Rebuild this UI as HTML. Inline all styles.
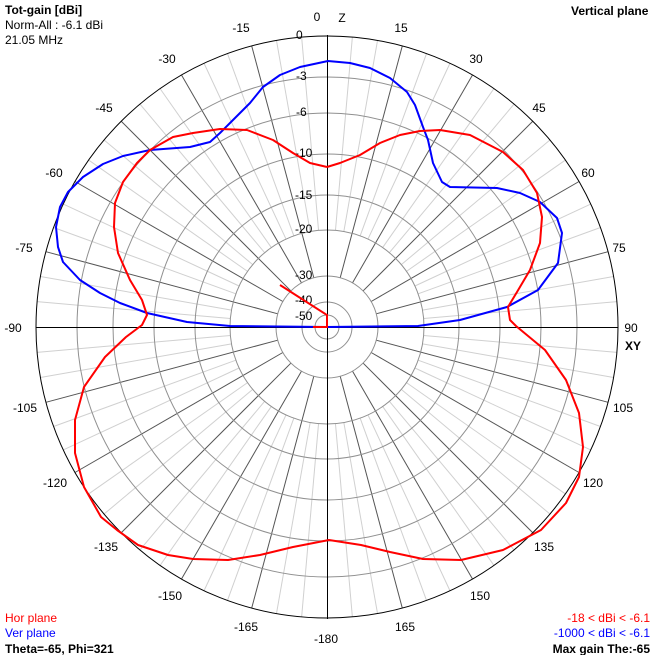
<!DOCTYPE html>
<html><head><style>
html,body{margin:0;padding:0;background:#fff;}
svg{display:block;}
text{font-family:"Liberation Sans",sans-serif;font-size:12px;}
</style></head><body>
<svg width="655" height="655" viewBox="0 0 655 655" xmlns="http://www.w3.org/2000/svg">
<rect width="655" height="655" fill="#fff"/>
<g id="grid"></g>
<g fill="none" stroke="#909090" stroke-width="1">
<circle cx="327" cy="327" r="250"/><circle cx="327" cy="327" r="214"/><circle cx="327" cy="327" r="173"/>
<circle cx="327" cy="327" r="132"/><circle cx="327" cy="327" r="97"/><circle cx="327" cy="327" r="51"/>
<circle cx="327" cy="327" r="25"/><circle cx="327" cy="327" r="12"/>
</g>
<circle cx="327" cy="327" r="291" fill="none" stroke="#000" stroke-width="1"/>
<line x1="36" y1="327.5" x2="618" y2="327.5" stroke="#000"/>
<line x1="327.5" y1="35" x2="327.5" y2="619" stroke="#000"/>
<g fill="#000">
<text x="296" y="39">0</text><text x="296" y="80">-3</text><text x="296" y="116">-6</text>
<text x="295" y="157">-10</text><text x="295" y="199">-15</text><text x="295" y="233">-20</text>
<text x="295" y="279">-30</text><text x="295" y="304">-40</text><text x="295" y="320">-50</text>
</g>
<g fill="#000" text-anchor="middle">
<text x="317" y="21">0</text><text x="342" y="22" font-size="14">Z</text>
<text x="401" y="32">15</text><text x="476" y="63">30</text><text x="539" y="112">45</text>
<text x="588" y="177">60</text><text x="619" y="252">75</text><text x="631" y="332">90</text>
<text x="633" y="350" font-size="14" font-weight="bold">XY</text>
<text x="241" y="32">-15</text><text x="167" y="63">-30</text><text x="104" y="112">-45</text>
<text x="54" y="177">-60</text><text x="24" y="252">-75</text><text x="13" y="332">-90</text>
<text x="623" y="412">105</text><text x="593" y="487">120</text><text x="544" y="551">135</text>
<text x="480" y="600">150</text><text x="405" y="631">165</text><text x="326" y="643">-180</text>
<text x="246" y="631">-165</text><text x="170" y="600">-150</text><text x="106" y="551">-135</text>
<text x="55" y="487">-120</text><text x="25" y="412">-105</text>
</g>
<text x="5" y="14" font-weight="bold">Tot-gain [dBi]</text>
<text x="5" y="29" font-size="11">Norm-All : -6.1 dBi</text>
<text x="5" y="44" font-size="11">21.05 MHz</text>
<text x="571" y="15" font-weight="bold">Vertical plane</text>
<text x="5" y="622" fill="#f00">Hor plane</text>
<text x="5" y="637" fill="#00f">Ver plane</text>
<text x="5" y="653" font-weight="bold">Theta=-65, Phi=321</text>
<text x="650" y="622" fill="#f00" text-anchor="end">-18 &lt; dBi &lt; -6.1</text>
<text x="650" y="637" fill="#00f" text-anchor="end">-1000 &lt; dBi &lt; -6.1</text>
<text x="650" y="653" font-weight="bold" text-anchor="end">Max gain The:-65</text>
<polyline fill="none" stroke="#00f" stroke-width="2" stroke-linejoin="round" points="327,327 418,326 460,320 507,307 538,290 558,263 562,233 557,218 540,202 520,193 497,188 450,187 442,182 433,163 428,140 423,127 415,105 407,92 390,78 370,68 350,63 328,61 300,67 280,75 263,87 250,103 233,120 220,133 210,142 190,147 150,150 123,156 103,164 83,177 68,192 60,207 56,227 58,247 63,262 80,280 100,293 120,303 147,313 187,322 230,326 327,327"/>
<polyline fill="none" stroke="#f00" stroke-width="2" stroke-linejoin="round" points="327,167 340,163 360,155 380,143 400,135 420,131 440,130 470,135 503,152 523,170 537,193 542,217 540,243 530,270 517,292 508,307 510,320 516,326 545,350 566,380 579,413 583,447 579,477 566,503 541,530 503,550 461,560 423,559 390,552 361,545 329,540 293,547 260,555 228,560 193,559 168,555 138,545 117,530 101,517 84,487 75,453 75,420 84,387 105,357 126,337 142,325 147,315 142,300 130,280 118,253 114,227 115,203 123,182 137,163 150,150 173,137 193,133 220,129 247,130 273,140 293,153 310,163 327,167"/>
<polyline fill="none" stroke="#f00" stroke-width="2" points="280,285 327,315 327,327 313,327"/>
<script>
(function(){
var g=document.getElementById('grid'),ns='http://www.w3.org/2000/svg',cx=327,cy=327;
for(var a=0;a<360;a+=5){
 if(a%90==0)continue;
 var maj=a%15==0,r0=maj?51:97,r1=291,t=a*Math.PI/180;
 var l=document.createElementNS(ns,'line');
 l.setAttribute('x1',cx+r0*Math.sin(t));l.setAttribute('y1',cy-r0*Math.cos(t));
 l.setAttribute('x2',cx+r1*Math.sin(t));l.setAttribute('y2',cy-r1*Math.cos(t));
 l.setAttribute('stroke',maj?'#555':'#d0d0d0');l.setAttribute('stroke-width','1');
 g.appendChild(l);
}})();
</script>
</svg>
</body></html>
